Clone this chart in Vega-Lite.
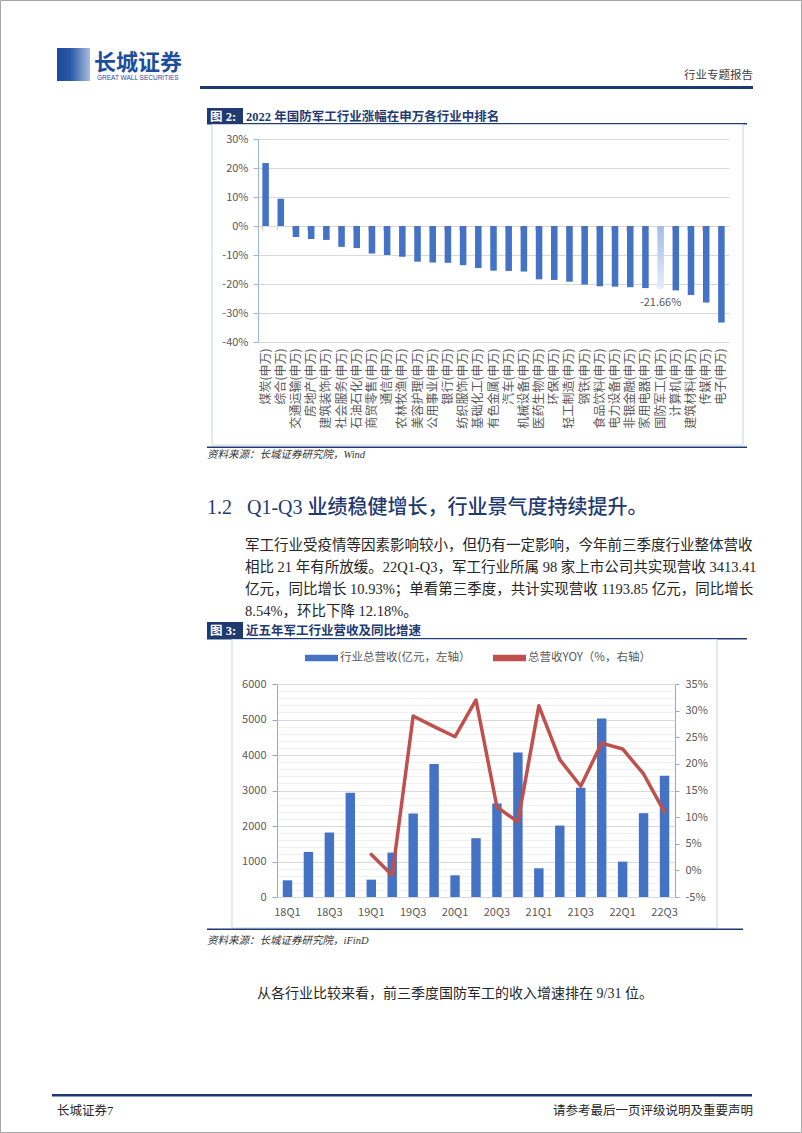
{
  "$schema": "https://vega.github.io/schema/vega-lite/v6.json",
  "background": "white",
  "padding": 0,
  "autosize": {"type": "pad"},
  "bounds": "flush",
  "spacing": 0,
  "config": {"view": {"stroke": null}, "font": "Noto Sans CJK SC", "axis": {"labelFont": "Noto Sans CJK SC"}, "legend": {"labelFont": "Noto Sans CJK SC"}},
  "vconcat": [
    {
      "width": 802,
      "height": 124,
      "data": {"values": [{}]},
      "layer": [
        {"mark": {"type": "rect", "x": 57, "x2": 90, "y": 48, "y2": 81, "fill": {"gradient": "linear", "x1": 0, "y1": 0, "x2": 1, "y2": 0, "stops": [{"offset": 0, "color": "#1b4a9a"}, {"offset": 0.4, "color": "#2657a6"}, {"offset": 1, "color": "#a9bedf"}]}}},
        {"mark": {"type": "text", "text": "长城证券", "x": 94, "y": 63, "align": "left", "baseline": "middle", "fontSize": 22, "fontWeight": "bold", "color": "#1d4e9e", "font": "Noto Sans CJK SC"}},
        {"mark": {"type": "text", "text": "GREAT WALL SECURITIES", "x": 97, "y": 78, "align": "left", "baseline": "middle", "fontSize": 6.5, "color": "#1d4e9e", "font": "Liberation Sans"}},
        {"mark": {"type": "text", "text": "行业专题报告", "x": 753, "y": 76, "align": "right", "baseline": "middle", "fontSize": 11.5, "color": "#404040", "font": "Noto Sans CJK SC"}},
        {"mark": {"type": "rect", "x": 200, "x2": 753, "y": 86, "y2": 89, "fill": "#1f3a70"}},
        {"mark": {"type": "rect", "x": 207, "x2": 243, "y": 108, "y2": 124, "fill": "#1f3a70"}},
        {"mark": {"type": "text", "text": "图 2:", "x": 210, "y": 116.5, "align": "left", "baseline": "middle", "fontSize": 12.5, "fontWeight": "bold", "color": "white", "font": "Liberation Serif, Noto Sans CJK SC"}},
        {"mark": {"type": "text", "text": "2022 年国防军工行业涨幅在申万各行业中排名", "x": 246, "y": 116.5, "align": "left", "baseline": "middle", "fontSize": 12.5, "fontWeight": "bold", "color": "#1f3a70", "font": "Liberation Serif, Noto Sans CJK SC"}},
        {"mark": {"type": "rect", "x": 207, "x2": 747, "y": 123, "y2": 124.5, "fill": "#1f3a70"}}
      ]
    },
    {
      "width": 802,
      "height": 323,
      "layer": [
        {"data": {"values": [{}]}, "mark": {"type": "rect", "x": 212, "x2": 743, "y": 0.5, "y2": 321, "fill": "transparent", "stroke": "#c9d5e8", "strokeWidth": 1}},
        {
          "data": {"values": [
            {"industry": "煤炭(申万)", "value": 21.7},
            {"industry": "综合(申万)", "value": 9.4},
            {"industry": "交通运输(申万)", "value": -3.8},
            {"industry": "房地产(申万)", "value": -4.5},
            {"industry": "建筑装饰(申万)", "value": -4.8},
            {"industry": "社会服务(申万)", "value": -7.2},
            {"industry": "石油石化(申万)", "value": -7.6},
            {"industry": "商贸零售(申万)", "value": -9.5},
            {"industry": "通信(申万)", "value": -10.0},
            {"industry": "农林牧渔(申万)", "value": -10.6},
            {"industry": "美容护理(申万)", "value": -12.3},
            {"industry": "公用事业(申万)", "value": -12.6},
            {"industry": "银行(申万)", "value": -12.7},
            {"industry": "纺织服饰(申万)", "value": -13.5},
            {"industry": "基础化工(申万)", "value": -14.5},
            {"industry": "有色金属(申万)", "value": -15.4},
            {"industry": "汽车(申万)", "value": -15.5},
            {"industry": "机械设备(申万)", "value": -15.7},
            {"industry": "医药生物(申万)", "value": -18.4},
            {"industry": "环保(申万)", "value": -18.6},
            {"industry": "轻工制造(申万)", "value": -19.2},
            {"industry": "钢铁(申万)", "value": -20.2},
            {"industry": "食品饮料(申万)", "value": -20.8},
            {"industry": "电力设备(申万)", "value": -20.9},
            {"industry": "非银金融(申万)", "value": -21.1},
            {"industry": "家用电器(申万)", "value": -21.4},
            {"industry": "国防军工(申万)", "value": -21.66, "label": "-21.66%"},
            {"industry": "计算机(申万)", "value": -22.2},
            {"industry": "建筑材料(申万)", "value": -23.8},
            {"industry": "传媒(申万)", "value": -26.4},
            {"industry": "电子(申万)", "value": -33.3}
          ]},
          "layer": [
            {
              "mark": {"type": "bar"},
              "encoding": {
                "x": {"field": "industry", "type": "nominal", "sort": null,
                  "scale": {"range": [258, 729], "paddingInner": 0.57, "paddingOuter": 0.285},
                  "axis": {"orient": "bottom", "offset": -105, "labelAngle": -90, "labelPadding": 6, "domain": false, "ticks": false, "labelFontSize": 12, "labelColor": "#595959", "labelOverlap": false, "title": null}},
                "y": {"field": "value", "type": "quantitative",
                  "scale": {"domain": [-40, 30], "range": [218, 15], "nice": false, "zero": false},
                  "axis": {"orient": "left", "offset": -258, "values": [-40, -30, -20, -10, 0, 10, 20, 30], "labelExpr": "datum.value + '%'", "grid": true, "gridColor": "#d9d9d9", "domainColor": "#9fb5dc", "tickColor": "#9fb5dc", "tickSize": 5, "labelPadding": 5, "labelFontSize": 11, "labelColor": "#595959", "title": null}},
                "color": {"condition": {"test": "datum.industry === '国防军工(申万)'", "value": {"gradient": "linear", "x1": 0, "y1": 0, "x2": 0, "y2": 1, "stops": [{"offset": 0, "color": "#a3bce6"}, {"offset": 1, "color": "#e6edf8"}]}}, "value": "#4472C4"}
              }
            },
            {
              "transform": [{"filter": "isValid(datum.label)"}],
              "mark": {"type": "text", "dy": 14, "fontSize": 11, "color": "#595959"},
              "encoding": {
                "x": {"field": "industry", "type": "nominal", "sort": null,
                  "axis": {"orient": "bottom", "offset": -221, "labels": false, "domain": false, "ticks": true, "tickColor": "#f4c0ae", "tickSize": 4, "bandPosition": 0, "title": null}},
                "y": {"field": "value", "type": "quantitative"},
                "text": {"field": "label"}
              }
            }
          ],
          "resolve": {"axis": {"x": "independent"}}
        }
      ]
    },
    {
      "width": 802,
      "height": 192,
      "data": {"values": [{}]},
      "layer": [
        {"mark": {"type": "rect", "x": 207, "x2": 747, "y": -0.5, "y2": 1, "fill": "#1f3a70"}},
        {"mark": {"type": "text", "text": "资料来源：长城证券研究院，Wind", "x": 207, "y": 8, "align": "left", "baseline": "middle", "fontSize": 10.5, "fontStyle": "italic", "color": "#333333", "font": "Liberation Serif, Noto Sans CJK SC"}},
        {"mark": {"type": "text", "text": "1.2", "x": 207, "y": 61, "align": "left", "baseline": "middle", "fontSize": 20, "color": "#1f3a70", "font": "Liberation Serif"}},
        {"mark": {"type": "text", "text": "Q1-Q3 业绩稳健增长，行业景气度持续提升。", "x": 247, "y": 61, "align": "left", "baseline": "middle", "fontSize": 20, "fontWeight": 500, "color": "#1f3a70", "font": "Liberation Serif, Noto Sans CJK SC"}},
        {"mark": {"type": "text", "text": ["军工行业受疫情等因素影响较小，但仍有一定影响，今年前三季度行业整体营收", "相比 21 年有所放缓。22Q1-Q3，军工行业所属 98 家上市公司共实现营收 3413.41", "亿元，同比增长 10.93%；单看第三季度，共计实现营收 1193.85 亿元，同比增长", "8.54%，环比下降 12.18%。"], "x": 245, "y": 92, "lineHeight": 22, "align": "left", "baseline": "top", "fontSize": 14.5, "color": "#262626", "font": "Liberation Serif, Noto Sans CJK SC"}},
        {"mark": {"type": "rect", "x": 207, "x2": 243, "y": 175, "y2": 192, "fill": "#1f3a70"}},
        {"mark": {"type": "text", "text": "图 3:", "x": 210, "y": 183.5, "align": "left", "baseline": "middle", "fontSize": 12.5, "fontWeight": "bold", "color": "white", "font": "Liberation Serif, Noto Sans CJK SC"}},
        {"mark": {"type": "text", "text": "近五年军工行业营收及同比增速", "x": 246, "y": 183.5, "align": "left", "baseline": "middle", "fontSize": 12.5, "fontWeight": "bold", "color": "#1f3a70", "font": "Liberation Serif, Noto Sans CJK SC"}},
        {"mark": {"type": "rect", "x": 207, "x2": 747, "y": 191, "y2": 192.5, "fill": "#1f3a70"}}
      ]
    },
    {
      "width": 802,
      "height": 290,
      "layer": [
        {"data": {"values": [{}]}, "mark": {"type": "rect", "x": 232, "x2": 717, "y": 0.5, "y2": 289, "fill": "transparent", "stroke": "#c9d5e8", "strokeWidth": 1}},
        {
          "data": {"values": [
            {"quarter": "18Q1", "revenue": 470, "yoy": null},
            {"quarter": "18Q2", "revenue": 1270, "yoy": null},
            {"quarter": "18Q3", "revenue": 1816, "yoy": null},
            {"quarter": "18Q4", "revenue": 2935, "yoy": null},
            {"quarter": "19Q1", "revenue": 489, "yoy": 3.0},
            {"quarter": "19Q2", "revenue": 1251, "yoy": -0.9},
            {"quarter": "19Q3", "revenue": 2352, "yoy": 29.0},
            {"quarter": "19Q4", "revenue": 3744, "yoy": 27.0},
            {"quarter": "20Q1", "revenue": 611, "yoy": 25.1},
            {"quarter": "20Q2", "revenue": 1656, "yoy": 32.0},
            {"quarter": "20Q3", "revenue": 2634, "yoy": 11.9},
            {"quarter": "20Q4", "revenue": 4073, "yoy": 9.1},
            {"quarter": "21Q1", "revenue": 809, "yoy": 30.9},
            {"quarter": "21Q2", "revenue": 2013, "yoy": 20.8},
            {"quarter": "21Q3", "revenue": 3076, "yoy": 15.8},
            {"quarter": "21Q4", "revenue": 5030, "yoy": 23.9},
            {"quarter": "22Q1", "revenue": 997, "yoy": 22.8},
            {"quarter": "22Q2", "revenue": 2361, "yoy": 18.1},
            {"quarter": "22Q3", "revenue": 3413.41, "yoy": 10.93}
          ]},
          "layer": [
            {
              "mark": {"type": "bar"},
              "encoding": {
                "x": {"field": "quarter", "type": "nominal", "sort": null,
                  "scale": {"range": [277, 675], "paddingInner": 0.55, "paddingOuter": 0.275},
                  "axis": {"orient": "bottom", "offset": -32, "labelAngle": 0, "labelExpr": "(substring(datum.value, 3) == '1' || substring(datum.value, 3) == '3') ? datum.value : ''", "ticks": false, "domainColor": "#d9d9d9", "labelPadding": 9, "labelFontSize": 11, "labelColor": "#595959", "labelOverlap": false, "title": null}},
                "y": {"field": "revenue", "type": "quantitative",
                  "scale": {"domain": [0, 6000], "range": [258, 45], "nice": false},
                  "axis": {"orient": "left", "offset": -277, "values": [0, 200, 400, 600, 800, 1000, 1200, 1400, 1600, 1800, 2000, 2200, 2400, 2600, 2800, 3000, 3200, 3400, 3600, 3800, 4000, 4200, 4400, 4600, 4800, 5000, 5200, 5400, 5600, 5800, 6000], "format": "d", "labelExpr": "datum.value % 1000 === 0 ? datum.label : ''", "grid": true, "gridColor": {"condition": {"test": "datum.value % 1000 === 0", "value": "#d9d9d9"}, "value": "#f0f0f0"}, "tickOpacity": {"condition": {"test": "datum.value % 1000 === 0", "value": 1}, "value": 0}, "tickSize": 5, "tickColor": "#8eaadb", "domainColor": "#8eaadb", "labelPadding": 6, "labelFontSize": 11, "labelColor": "#595959", "title": null}},
                "color": {"datum": "行业总营收(亿元，左轴）", "type": "nominal",
                  "scale": {"domain": ["行业总营收(亿元，左轴）", "总营收YOY（%，右轴）"], "range": ["#4472C4", "#C0504D"]},
                  "legend": {"orient": "none", "legendX": 305, "legendY": 641.5, "direction": "horizontal", "title": null, "symbolType": "M-1,-0.19H1V0.19H-1Z", "symbolSize": 1089, "symbolStrokeWidth": 0, "labelFontSize": 11.5, "labelColor": "#595959", "labelOffset": 2, "columnPadding": 22, "padding": 0, "labelLimit": 300}}
              }
            },
            {
              "mark": {"type": "line", "color": "#C0504D", "strokeWidth": 3.5, "strokeCap": "round", "strokeJoin": "round"},
              "encoding": {
                "x": {"field": "quarter", "type": "nominal", "sort": null},
                "y": {"field": "yoy", "type": "quantitative",
                  "scale": {"domain": [-5, 35], "range": [258, 45], "nice": false, "zero": false},
                  "axis": {"orient": "right", "offset": -127, "values": [-5, 0, 5, 10, 15, 20, 25, 30, 35], "labelExpr": "datum.value + '%'", "grid": false, "tickSize": 4, "tickColor": "#8eaadb", "domainColor": "#8eaadb", "labelPadding": 6, "labelFontSize": 11, "labelColor": "#595959", "title": null}}
              }
            }
          ],
          "resolve": {"scale": {"y": "independent"}}
        }
      ]
    },
    {
      "width": 802,
      "height": 204,
      "data": {"values": [{}]},
      "layer": [
        {"mark": {"type": "rect", "x": 207, "x2": 743, "y": -0.5, "y2": 1, "fill": "#1f3a70"}},
        {"mark": {"type": "text", "text": "资料来源：长城证券研究院，iFinD", "x": 207, "y": 12, "align": "left", "baseline": "middle", "fontSize": 10.5, "fontStyle": "italic", "color": "#333333", "font": "Liberation Serif, Noto Sans CJK SC"}},
        {"mark": {"type": "text", "text": "从各行业比较来看，前三季度国防军工的收入增速排在 9/31 位。", "x": 257, "y": 65, "align": "left", "baseline": "middle", "fontSize": 14, "color": "#262626", "font": "Liberation Serif, Noto Sans CJK SC"}},
        {"mark": {"type": "rect", "x": 52, "x2": 752, "y": 165, "y2": 167.5, "fill": "#1f3a70"}},
        {"mark": {"type": "text", "text": "长城证券7", "x": 57, "y": 182, "align": "left", "baseline": "middle", "fontSize": 12.5, "color": "#262626", "font": "Liberation Serif, Noto Sans CJK SC"}},
        {"mark": {"type": "text", "text": "请参考最后一页评级说明及重要声明", "x": 753, "y": 182, "align": "right", "baseline": "middle", "fontSize": 12.5, "color": "#262626", "font": "Liberation Serif, Noto Sans CJK SC"}},
        {"mark": {"type": "rect", "x": 0.5, "x2": 801.5, "y": -928.5, "y2": 203.5, "fill": "transparent", "stroke": "#a6a6a6", "strokeWidth": 1}}
      ]
    }
  ]
}
